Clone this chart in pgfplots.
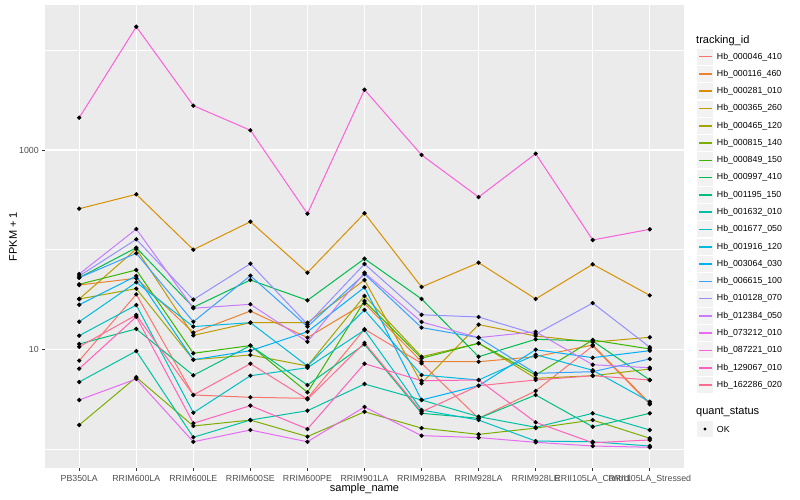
\documentclass[border=0pt]{standalone}
\usepackage{fontspec}
\setmainfont{Liberation Sans}
\usepackage{pgfplots}
\usepackage{pgfplotstable}
\pgfplotsset{compat=1.18}

% ggplot hue palette, 20 levels
\definecolor{c1}{HTML}{F8766D}
\definecolor{c2}{HTML}{EA8331}
\definecolor{c3}{HTML}{D89000}
\definecolor{c4}{HTML}{C09B00}
\definecolor{c5}{HTML}{A3A500}
\definecolor{c6}{HTML}{7CAE00}
\definecolor{c7}{HTML}{39B600}
\definecolor{c8}{HTML}{00BB4E}
\definecolor{c9}{HTML}{00BF7D}
\definecolor{c10}{HTML}{00C1A3}
\definecolor{c11}{HTML}{00BFC4}
\definecolor{c12}{HTML}{00BAE0}
\definecolor{c13}{HTML}{00B0F6}
\definecolor{c14}{HTML}{35A2FF}
\definecolor{c15}{HTML}{9590FF}
\definecolor{c16}{HTML}{C77CFF}
\definecolor{c17}{HTML}{E76BF3}
\definecolor{c18}{HTML}{FA62DB}
\definecolor{c19}{HTML}{FF62BC}
\definecolor{c20}{HTML}{FF6C91}
\definecolor{panel}{HTML}{EBEBEB}
\definecolor{keybg}{HTML}{F2F2F2}
\definecolor{ticklab}{HTML}{4D4D4D}
\definecolor{tickcol}{HTML}{333333}

% FPKM + 1 per sample (x = sample index), one column per tracking_id
\pgfplotstableread{
x  s1    s2    s3    s4    s5    s6    s7    s8    s9    s10   s11   s12   s13   s14   s15   s16   s17   s18    s19   s20
0  7.69  44.2  257.6 32.0  32.0  1.74  44.9  52.3  11.3  4.70  13.7  18.9  28.0  52.3  54.4  56.9  3.10  2109   6.39  10.6
1  35.6  51.6  359   101.5 40.6  5.24  62.5  104.6 16.0  9.61  27.8  47.0  54.4  91.9  127.0 161   5.04  17260  21.2  22.1
2  3.48  14.7  99.9  13.8  7.86  1.70  9.12  26.4  5.48  1.31  2.31  16.9  7.86  18.9  31.5  25.8  1.18  2786   1.81  3.48
3  3.30  24.2  190.8 18.5  8.77  1.95  10.9  49.6  10.9  1.95  5.43  18.5  9.68  54.8  72.3  28.3  1.55  1578   2.72  7.17
4  3.22  13.1  58.7  18.5  6.80  1.33  3.70  31.0  4.38  2.42  6.53  6.80  15.0  16.9  17.8  11.9  1.18  229.6  1.585 3.15
5  15.9  28.9  231.7 49.6  34.3  2.36  30.5  81.1  11.2  4.48  15.6  24.8  41.9  56.9  71.8  58.7  2.64  4027   7.17  11.6
6  7.24  7.51  42.2  4.56  8.43  1.62  8.12  32.0  2.28  3.10  2.46  5.52  3.10  16.5  22.2  18.8  1.36  891    4.84  2.36
7  2.03  7.51  74.0  17.7  11.5  1.40  11.5  8.43  2.03  2.11  1.95  4.92  4.31  13.1  21.1  13.1  1.30  337    4.92  4.31
8  3.82  8.43  32.0  13.6  5.12  1.62  5.52  12.6  3.48  1.65  1.20  8.83  9.91  5.74  14.2  15.0  1.166 918    1.85  4.92
9  10.8  11.05 71.3  11.8  5.43  1.95  12.4  12.1  1.67  2.28  1.18  6.16  8.24  5.96  29.1  7.00  1.07  125    1.155 5.43
10 2.81  2.87  34.8  13.2  6.34  1.28  10.07 4.92  2.28  1.55  1.07  2.98  9.68  8.0   10.5  6.53  1.04  160    1.23  4.92
}\data

\begin{document}
\begin{tikzpicture}
\path[use as bounding box] (0pt,0pt) rectangle (800pt,500pt);
\begin{axis}[
  at={(45pt,32pt)}, anchor=south west,
  scale only axis, width=639pt, height=463pt,
  xmin=-0.6, xmax=10.6,
  ymode=log, ymin=0.644, ymax=28520,
  axis background/.style={fill=panel},
  axis line style={draw=none},
  tick pos=left,
  xtick={0,...,10},
  xticklabels={PB350LA,RRIM600LA,RRIM600LE,RRIM600SE,RRIM600PE,RRIM901LA,RRIM928BA,RRIM928LA,RRIM928LE,RRII105LA\_Control,RRII105LA\_Stressed},
  ytick={10,1000}, yticklabels={10,1000},
  minor ytick={1,100,10000},
  grid=both,
  major grid style={white, line width=1.07pt},
  minor grid style={white, line width=0.53pt},
  tick align=outside, major tick length=2.75pt, minor tick length=0pt,
  tick style={tickcol, line width=0.8pt},
  ticklabel style={font=\fontsize{8.8}{10}\selectfont, text=ticklab},
  xticklabel style={yshift=-1pt},
  xlabel={sample\_name}, ylabel={FPKM + 1},
  label style={font=\fontsize{11}{13}\selectfont},
  xlabel style={at={(axis description cs:0.5,-0.0438)}, anchor=center},
  ylabel style={at={(axis description cs:-0.0501,0.5)}, anchor=center},
  every axis plot/.append style={line width=1pt, no marks},
]
\addplot[c1] table[x=x,y=s1] \data;
\addplot[c2] table[x=x,y=s2] \data;
\addplot[c3] table[x=x,y=s3] \data;
\addplot[c4] table[x=x,y=s4] \data;
\addplot[c5] table[x=x,y=s5] \data;
\addplot[c6] table[x=x,y=s6] \data;
\addplot[c7] table[x=x,y=s7] \data;
\addplot[c8] table[x=x,y=s8] \data;
\addplot[c9] table[x=x,y=s9] \data;
\addplot[c10] table[x=x,y=s10] \data;
\addplot[c11] table[x=x,y=s11] \data;
\addplot[c12] table[x=x,y=s12] \data;
\addplot[c13] table[x=x,y=s13] \data;
\addplot[c14] table[x=x,y=s14] \data;
\addplot[c15] table[x=x,y=s15] \data;
\addplot[c16] table[x=x,y=s16] \data;
\addplot[c17] table[x=x,y=s17] \data;
\addplot[c18] table[x=x,y=s18] \data;
\addplot[c19] table[x=x,y=s19] \data;
\addplot[c20] table[x=x,y=s20] \data;
% points on top of all lines, as ggplot layers them
\pgfplotsinvokeforeach{1,...,20}{
  \addplot[only marks, mark=*, mark size=1.6pt, black] table[x=x,y=s#1] \data;
}
\end{axis}
% legend: tracking_id
\node[anchor=west, font=\fontsize{11}{13}\selectfont, inner sep=0pt] at (696pt,459.3pt) {tracking\_id};
\foreach \n [count=\i] in {000046\_410,000116\_460,000281\_010,000365\_260,000465\_120,
    000815\_140,000849\_150,000997\_410,001195\_150,001632\_010,001677\_050,001916\_120,
    003064\_030,006615\_100,010128\_070,012384\_050,073212\_010,087221\_010,129067\_010,162286\_020}{
  \pgfmathsetmacro{\yy}{500-56.7-(\i-1)*17.28}
  \fill[keybg] (697pt,\yy pt-8pt) rectangle (713pt,\yy pt+8pt);
  \fill[c\i] (698.5pt,\yy pt-0.8pt) rectangle (711.5pt,\yy pt+0.8pt);
  \node[anchor=west, font=\fontsize{8.8}{10}\selectfont, inner sep=0pt] at (716.7pt,\yy pt) {Hb\_\n};
}
% legend: quant_status
\node[anchor=west, font=\fontsize{11}{13}\selectfont, inner sep=0pt] at (696pt,87.7pt) {quant\_status};
\fill[keybg] (697pt,63pt) rectangle (713pt,79pt);
\fill[black] (705pt,71pt) circle (1.6pt);
\node[anchor=west, font=\fontsize{8.8}{10}\selectfont, inner sep=0pt] at (716.7pt,71pt) {OK};
\end{tikzpicture}
\end{document}
